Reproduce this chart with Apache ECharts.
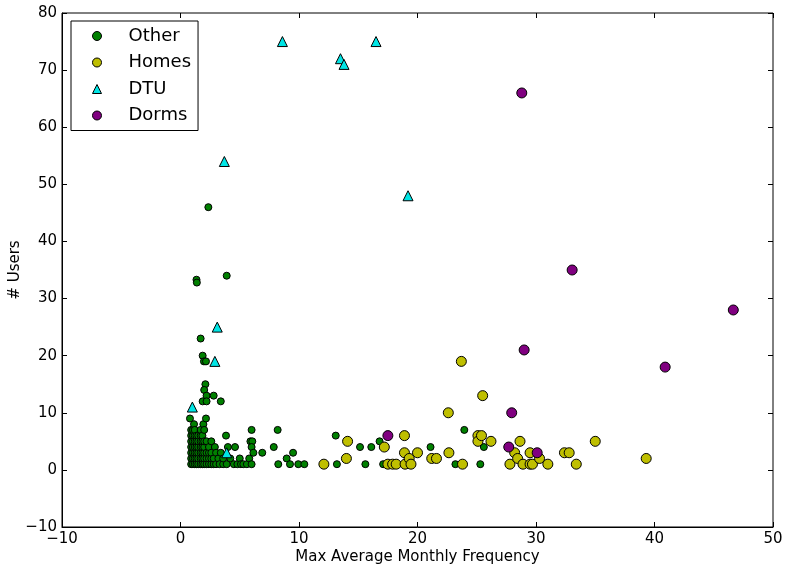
<!DOCTYPE html>
<html><head><meta charset="utf-8">
<script src="https://cdn.jsdelivr.net/npm/echarts@6/dist/echarts.min.js"></script>
<style>html,body{margin:0;padding:0;background:#fff}#c{width:785px;height:569px}</style>
</head><body><div id="c"></div>
<script>
const seriesNames = ['Other', 'Homes', 'DTU', 'Dorms'];
const seriesColors = ['#008000', '#bfbf00', '#00e5e5', '#800080'];
const seriesSymbols = ['circle', 'circle', 'triangle', 'circle'];
const xTicks = [-10, 0, 10, 20, 30, 40, 50];
const yTicks = [-10, 0, 10, 20, 30, 40, 50, 60, 70, 80];

const otherPts = [
  [0.9,1],[0.9,2],[0.9,3],[0.9,4],[0.9,5],[0.9,6],[0.9,7],[0.8,9],
  [1.05,1],[1.05,2],[1.05,3],[1.05,4],[1.05,5],[1.05,6],[1.05,7],[1.14,8],
  [1.2,1],[1.2,2],[1.2,3],[1.2,4],[1.2,5],[1.2,6],[1.2,7],
  [1.35,1],[1.35,2],[1.35,3],[1.35,4],[1.35,5],[1.35,6],
  [1.5,1],[1.5,2],[1.5,3],[1.5,4],[1.5,5],[1.5,6],
  [1.7,1],[1.7,2],[1.7,3],[1.7,4],[1.7,5],[1.7,6],[1.7,7],
  [1.85,1],[1.85,2],[1.85,3],[1.85,4],[1.85,5],[1.85,6],[1.93,8],
  [2.0,1],[2.0,2],[2.0,3],[2.0,4],[2.0,5],[2.0,7],[2.15,9],
  [2.2,1],[2.2,2],[2.2,3],[2.2,5],
  [2.4,1],[2.4,2],[2.4,3],[2.4,4],
  [2.6,1],[2.6,2],[2.6,3],[2.6,5],
  [2.8,1],[2.8,2],[2.9,4],
  [3.0,1],[3.0,3],[3.2,2],[3.3,1],[3.4,3],[3.6,1],[3.6,2],[3.9,1],
  [4.2,2],[4.0,4],[4.6,4],[4.5,1],[4.8,1],[5.0,2],[5.1,1],[5.3,1],
  [5.6,1],[5.8,2],[6.0,1],[5.9,5],[6.06,5],[6.0,4],[6.15,3],[6.0,7],
  [3.84,6],[6.9,3],[7.87,4],[8.2,7],[9.5,3],[8.96,2],[8.25,1],[9.24,1],
  [9.94,1],[10.45,1],
  [1.7,23],[1.87,20],[1.98,19],[2.15,19],[2.1,15],[2.0,14],[2.2,13],[2.8,13],
  [1.87,12],[2.2,12],[3.4,12],
  [2.35,46],[3.9,34],[1.35,33.3],[1.38,32.8],
  [13.1,6],[15.15,4],[16.1,4],[16.8,5],[13.2,1],[15.6,1],[17.1,1],
  [21.1,4],[23.95,7],[23.2,1],[25.6,4],[25.3,1]
];
const homesPts = [
  [12.1,1],[14.1,5],[14.0,2],[17.2,4],[17.5,1],[17.9,1],[18.2,1],[18.9,6],
  [18.9,3],[18.95,1],[19.3,2],[19.45,1],[20.0,3],[21.2,2],[21.6,2],[22.6,10],
  [22.65,3],[23.7,19],[23.8,1],[25.1,6],[25.1,5],[25.4,6],[25.5,13],[26.2,5],
  [27.8,1],[28.2,3],[28.45,2],[28.65,5],[28.9,1],[29.5,1],[29.5,3],[29.7,1],
  [30.3,2],[31.0,1],[32.4,3],[32.8,3],[33.4,1],[35.0,5],[39.3,2]
];
const dtuPts = [
  [8.6,75],[13.5,72],[13.8,71],[16.5,75],[3.7,54],[19.2,48],[3.1,25],
  [2.9,19],[1.0,11],[3.9,3]
];
const dormsPts = [
  [28.8,66],[33.05,35],[46.65,28],[29.0,21],[40.9,18],[27.95,10],[17.5,6],
  [27.7,4],[30.1,3]
];
const seriesData = [otherPts, homesPts, dtuPts, dormsPts];
const seriesSizes = [7, 10, 10, 10];

const minus = v => String(v).replace('-', '\u2212');
const font = 'DejaVu Sans';
const grid = {left: 62, top: 13, width: 711, height: 514};

const chart = echarts.init(document.getElementById('c'), null, {renderer: 'canvas'});
const tickCommon = {show: true, inside: true, length: 5, lineStyle: {color: '#000', width: 1}};
const hiddenLine = {show: false, onZero: false};
chart.setOption({
  animation: false,
  backgroundColor: '#fff',
  grid: Object.assign({show: true, borderColor: '#000', borderWidth: 1, backgroundColor: 'transparent',
    containLabel: false, outerBoundsMode: 'none'}, grid),
  legend: {
    orient: 'vertical', left: 71, top: 21,
    backgroundColor: '#fff', borderColor: '#000', borderWidth: 1, borderRadius: 0,
    padding: [5, 7, 5, 21],
    itemWidth: 9, itemHeight: 9, itemGap: 6.5,
    data: seriesNames.map((n, i) => ({
      name: n, icon: seriesSymbols[i],
      itemStyle: {color: seriesColors[i], borderColor: '#000', borderWidth: 1}
    })),
    textStyle: {fontFamily: font, fontSize: 18, color: '#000', lineHeight: 20, padding: [0, 0, 0, 22]}
  },
  xAxis: [{
    type: 'value', min: xTicks[0], max: xTicks[xTicks.length - 1], interval: 10,
    position: 'bottom',
    name: 'Max Average Monthly Frequency', nameLocation: 'middle', nameGap: 23,
    nameMoveOverlap: false,
    nameTextStyle: {fontFamily: font, fontSize: 15, color: '#000'},
    axisLine: {show: true, onZero: false, lineStyle: {color: '#000'}},
    axisTick: tickCommon, splitLine: {show: false},
    axisLabel: {fontFamily: font, fontSize: 15, color: '#000', margin: 5, formatter: minus}
  }, {
    type: 'value', min: xTicks[0], max: xTicks[xTicks.length - 1], interval: 10,
    position: 'top', axisLine: hiddenLine, axisTick: tickCommon,
    axisLabel: {show: false}, splitLine: {show: false}
  }],
  yAxis: [{
    type: 'value', min: yTicks[0], max: yTicks[yTicks.length - 1], interval: 10,
    position: 'left',
    name: '# Users', nameLocation: 'middle', nameGap: 39,
    nameMoveOverlap: false,
    nameTextStyle: {fontFamily: font, fontSize: 15, color: '#000'},
    axisLine: {show: true, onZero: false, lineStyle: {color: '#000'}},
    axisTick: tickCommon, splitLine: {show: false},
    axisLabel: {fontFamily: font, fontSize: 15, color: '#000', margin: 5, formatter: minus}
  }, {
    type: 'value', min: yTicks[0], max: yTicks[yTicks.length - 1], interval: 10,
    position: 'right', axisLine: hiddenLine, axisTick: tickCommon,
    axisLabel: {show: false}, splitLine: {show: false}
  }],
  series: seriesNames.map((n, i) => ({
    name: n, type: 'scatter', data: seriesData[i], symbol: seriesSymbols[i],
    symbolSize: seriesSizes[i],
    itemStyle: {color: seriesColors[i], borderColor: '#000', borderWidth: 1, opacity: 1}
  }))
});
</script></body></html>
